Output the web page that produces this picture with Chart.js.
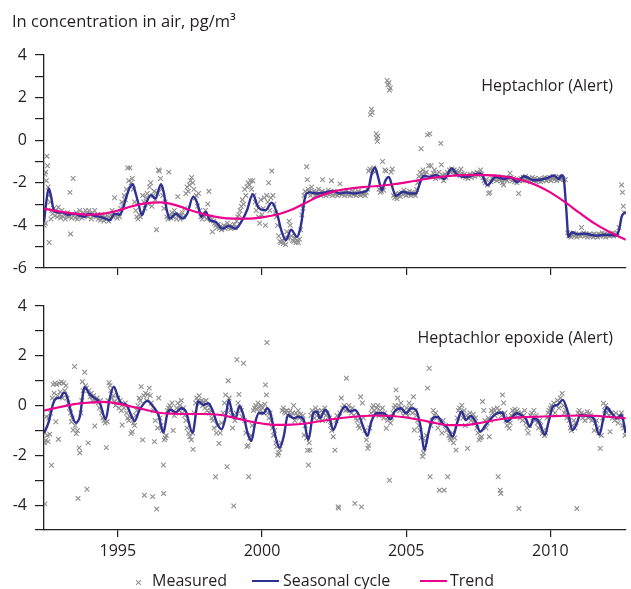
<!DOCTYPE html>
<html>
<head>
<meta charset="utf-8">
<script src="https://cdn.jsdelivr.net/npm/chart.js@4/dist/chart.umd.min.js"></script>
<style>
  body { margin: 0; width: 631px; height: 589px; background: #fff; position: relative; overflow: hidden;
         font-family: "Open Sans", sans-serif; color: #231f20; }
  canvas { position: absolute; left: 0; top: 0; }
  .lbl { position: absolute; font-size: 16px; line-height: 16px; white-space: nowrap; }
  .line { position: absolute; height: 2.4px; }
  .xmark { position: absolute; width: 6px; height: 6px; }
  .xmark::before, .xmark::after { content: ''; position: absolute; left: -1px; top: 2.5px; width: 7px; height: 1px;
         background: #8f8f8f; transform: rotate(45deg); }
  .xmark::after { transform: rotate(-45deg); }
</style>
</head>
<body>
<canvas id="panelTop" width="631" height="589"></canvas>
<canvas id="panelBottom" width="631" height="589"></canvas>

<div class="lbl" style="left:12px;top:13px;font-size:16.5px">In concentration in air, pg/m³</div>
<div class="lbl" style="right:18px;top:77px">Heptachlor (Alert)</div>
<div class="lbl" style="right:18px;top:329px">Heptachlor epoxide (Alert)</div>

<div class="xmark" style="left:136px;top:579px"></div>
<div class="lbl" style="left:152px;top:572px">Measured</div>
<div class="line" style="left:252px;top:580px;width:27px;background:#2e3192"></div>
<div class="lbl" style="left:283px;top:572px">Seasonal cycle</div>
<div class="line" style="left:420px;top:580px;width:27px;background:#ec008c"></div>
<div class="lbl" style="left:450px;top:572px">Trend</div>

<script>
// x range in decimal years, axis ticks
const X_MIN = 1992.44;
const X_MAX = 2012.62;
const yearTicks = [1995, 2000, 2005, 2010];
const topYTicks = [-6, -5, -4, -3, -2, -1, 0, 1, 2, 3, 4];
const bottomYTicks = [-5, -4, -3, -2, -1, 0, 1, 2, 3, 4];

// Heptachlor: [year, ln concentration]
const topMeasured = [
  [1992.45,-4.0],[1992.47,-1.6],[1992.49,-3.9],[1992.5,-1.5],[1992.52,-1.9],[1992.54,-0.75],[1992.56,-1.2],[1992.58,-2.2],
  [1992.6,-2.6],[1992.62,-4.8],[1992.65,-2.9],[1992.68,-3.7],[1992.7,-3.3],[1992.74,-3.45],[1992.78,-3.2],[1992.82,-3.55],
  [1992.86,-3.3],[1992.9,-3.6],[1992.94,-3.15],[1992.98,-3.5],[1993.02,-3.65],[1993.06,-3.3],[1993.1,-3.6],[1993.14,-3.45],
  [1993.18,-3.7],[1993.22,-3.55],[1993.26,-3.4],[1993.3,-3.6],[1993.34,-2.45],[1993.36,-4.4],[1993.4,-3.65],[1993.45,-1.8],
  [1993.48,-3.5],[1993.52,-3.65],[1993.56,-3.4],[1993.6,-3.7],[1993.64,-3.6],[1993.68,-3.3],[1993.72,-3.5],[1993.76,-3.65],
  [1993.8,-3.4],[1993.84,-3.55],[1993.88,-3.3],[1993.92,-3.45],[1993.96,-3.6],[1994.0,-3.3],[1994.04,-3.5],[1994.08,-3.7],
  [1994.12,-3.4],[1994.16,-3.55],[1994.2,-3.3],[1994.24,-3.6],[1994.28,-3.5],[1994.32,-3.7],[1994.36,-3.6],[1994.4,-3.75],
  [1994.44,-3.5],[1994.48,-3.65],[1994.52,-3.8],[1994.56,-3.6],[1994.6,-3.7],[1994.64,-3.55],[1994.68,-3.8],[1994.72,-3.65],
  [1994.76,-3.5],[1994.8,-3.3],[1994.84,-3.6],[1994.89,-2.7],[1994.94,-3.55],[1994.98,-3.65],[1995.02,-3.4],[1995.06,-3.6],
  [1995.1,-3.2],[1995.14,-2.9],[1995.18,-3.0],[1995.22,-2.6],[1995.26,-2.8],[1995.3,-2.3],[1995.34,-1.3],[1995.38,-1.9],
  [1995.42,-1.3],[1995.46,-2.0],[1995.5,-1.8],[1995.54,-2.3],[1995.58,-2.9],[1995.62,-3.3],[1995.66,-3.6],[1995.7,-3.7],
  [1995.74,-3.5],[1995.78,-3.6],[1995.82,-3.4],[1995.86,-2.6],[1995.9,-2.9],[1995.94,-3.2],[1995.98,-2.7],[1996.02,-2.5],
  [1996.06,-3.0],[1996.1,-2.2],[1996.14,-2.0],[1996.18,-3.1],[1996.22,-2.6],[1996.26,-2.4],[1996.3,-2.8],[1996.34,-4.2],
  [1996.38,-2.5],[1996.41,-1.4],[1996.44,-1.45],[1996.48,-1.8],[1996.52,-2.3],[1996.56,-2.6],[1996.6,-3.2],[1996.64,-2.9],
  [1996.7,-3.6],[1996.74,-3.7],[1996.77,-1.5],[1996.8,-3.5],[1996.84,-3.65],[1996.88,-3.4],[1996.92,-3.6],[1996.96,-3.3],
  [1997.0,-3.5],[1997.04,-3.7],[1997.08,-2.65],[1997.12,-3.5],[1997.16,-3.7],[1997.2,-3.55],[1997.24,-3.4],[1997.28,-3.6],
  [1997.32,-3.2],[1997.36,-2.5],[1997.4,-2.2],[1997.44,-2.4],[1997.48,-2.1],[1997.52,-1.9],[1997.56,-1.75],[1997.6,-2.0],
  [1997.64,-2.3],[1997.68,-2.7],[1997.72,-2.6],[1997.76,-3.1],[1997.8,-2.5],[1997.84,-3.3],[1997.88,-3.6],[1997.92,-3.7],
  [1997.96,-3.5],[1998.0,-3.6],[1998.04,-3.3],[1998.08,-3.7],[1998.12,-3.0],[1998.16,-2.4],[1998.2,-3.6],[1998.24,-3.75],
  [1998.28,-4.3],[1998.32,-3.8],[1998.36,-3.9],[1998.4,-4.0],[1998.44,-4.1],[1998.48,-3.95],[1998.52,-4.15],[1998.56,-4.05],
  [1998.6,-4.2],[1998.64,-4.1],[1998.68,-4.0],[1998.72,-4.15],[1998.76,-4.05],[1998.8,-3.9],[1998.84,-4.1],[1998.88,-4.0],
  [1998.92,-4.15],[1998.96,-4.05],[1999.0,-4.1],[1999.04,-3.95],[1999.08,-4.1],[1999.12,-3.8],[1999.16,-3.6],[1999.2,-3.5],
  [1999.24,-3.3],[1999.28,-3.1],[1999.32,-2.8],[1999.36,-3.0],[1999.4,-2.3],[1999.44,-2.6],[1999.48,-2.2],[1999.52,-2.0],
  [1999.56,-2.1],[1999.6,-1.9],[1999.64,-2.3],[1999.68,-1.9],[1999.72,-2.6],[1999.76,-2.9],[1999.8,-3.3],[1999.84,-3.0],
  [1999.88,-3.6],[1999.92,-3.9],[1999.96,-2.8],[2000.0,-3.5],[2000.04,-3.2],[2000.08,-2.7],[2000.12,-4.0],[2000.16,-2.6],
  [2000.2,-2.9],[2000.23,-2.0],[2000.27,-3.3],[2000.31,-2.7],[2000.34,-1.45],[2000.38,-2.6],[2000.42,-3.0],[2000.46,-3.4],
  [2000.5,-3.6],[2000.54,-4.0],[2000.58,-4.5],[2000.62,-4.75],[2000.66,-4.8],[2000.7,-4.7],[2000.74,-4.85],[2000.78,-4.6],
  [2000.82,-4.9],[2000.86,-4.3],[2000.9,-4.6],[2000.94,-3.8],[2000.98,-4.0],[2001.02,-4.5],[2001.06,-4.7],[2001.1,-4.75],
  [2001.14,-4.6],[2001.18,-4.8],[2001.22,-4.7],[2001.26,-4.8],[2001.3,-4.65],[2001.34,-4.2],[2001.38,-3.5],[2001.42,-3.2],
  [2001.46,-2.6],[2001.5,-2.4],[2001.55,-1.25],[2001.57,-1.85],[2001.6,-2.3],[2001.64,-2.4],[2001.68,-2.6],[2001.72,-2.2],
  [2001.76,-2.5],[2001.8,-2.4],[2001.84,-2.6],[2001.88,-2.45],[2001.92,-2.55],[2001.96,-2.3],[2002.0,-2.5],[2002.04,-2.6],
  [2002.08,-2.4],[2002.1,-1.85],[2002.14,-2.55],[2002.18,-2.45],[2002.22,-2.6],[2002.26,-2.5],[2002.3,-2.35],[2002.34,-2.55],
  [2002.38,-2.45],[2002.41,-1.9],[2002.45,-2.6],[2002.5,-2.4],[2002.54,-2.55],[2002.58,-2.45],[2002.62,-2.6],[2002.66,-2.5],
  [2002.7,-2.05],[2002.74,-2.4],[2002.78,-2.55],[2002.82,-2.45],[2002.86,-2.6],[2002.9,-2.5],[2002.94,-2.35],[2002.98,-2.55],
  [2003.02,-2.45],[2003.06,-2.6],[2003.1,-2.5],[2003.14,-2.4],[2003.18,-2.55],[2003.22,-2.45],[2003.26,-2.6],[2003.3,-2.5],
  [2003.34,-2.4],[2003.38,-2.55],[2003.42,-2.6],[2003.46,-2.45],[2003.5,-2.55],[2003.54,-2.5],[2003.58,-2.6],[2003.62,-2.45],
  [2003.66,-2.3],[2003.7,-1.45],[2003.74,-1.35],[2003.76,1.2],[2003.8,1.45],[2003.82,1.3],[2003.84,-1.4],[2003.88,-1.3],
  [2003.92,-1.5],[2003.96,0.3],[2003.98,0.1],[2004.0,-0.05],[2004.02,0.2],[2004.06,-2.3],[2004.1,-2.45],[2004.14,-2.4],
  [2004.18,-1.0],[2004.22,-2.35],[2004.26,-1.4],[2004.3,-1.45],[2004.34,2.8],[2004.37,2.6],[2004.4,2.7],[2004.42,2.35],
  [2004.45,2.45],[2004.48,-1.5],[2004.52,-1.35],[2004.56,-2.6],[2004.6,-2.7],[2004.64,-2.5],[2004.68,-2.75],[2004.72,-2.6],
  [2004.76,-2.5],[2004.8,-2.65],[2004.84,-2.45],[2004.88,-2.55],[2004.92,-2.35],[2004.96,-2.5],[2005.0,-2.6],[2005.04,-2.45],
  [2005.08,-2.55],[2005.12,-2.4],[2005.16,-2.6],[2005.2,-2.45],[2005.24,-2.55],[2005.28,-2.5],[2005.32,-2.6],[2005.36,-2.3],
  [2005.4,-2.0],[2005.44,-1.7],[2005.48,-1.5],[2005.52,-0.4],[2005.55,-1.6],[2005.58,-1.4],[2005.62,-1.75],[2005.66,-1.6],
  [2005.7,-1.5],[2005.74,0.25],[2005.78,-1.2],[2005.82,0.3],[2005.86,-1.2],[2005.9,-1.7],[2005.94,-1.55],[2005.98,-1.4],
  [2006.02,-1.8],[2006.06,-1.6],[2006.1,-1.75],[2006.14,-1.5],[2006.18,-1.7],[2006.2,-0.15],[2006.22,-1.15],[2006.26,-1.65],
  [2006.3,-1.9],[2006.34,-1.6],[2006.38,-1.75],[2006.42,-1.5],[2006.46,-1.6],[2006.5,-1.4],[2006.54,-1.5],[2006.58,-1.35],
  [2006.62,-1.5],[2006.66,-1.4],[2006.7,-1.55],[2006.74,-1.45],[2006.78,-1.6],[2006.82,-1.5],[2006.86,-1.65],[2006.9,-1.35],
  [2006.94,-1.55],[2006.98,-1.7],[2007.02,-1.6],[2007.06,-1.75],[2007.1,-1.65],[2007.14,-1.8],[2007.18,-1.7],[2007.22,-1.6],
  [2007.26,-1.75],[2007.3,-1.65],[2007.34,-1.55],[2007.38,-1.7],[2007.42,-1.6],[2007.46,-1.5],[2007.5,-1.65],[2007.54,-1.55],
  [2007.58,-1.4],[2007.62,-1.6],[2007.66,-1.75],[2007.7,-1.9],[2007.74,-2.0],[2007.78,-1.85],[2007.82,-2.1],[2007.86,-2.5],
  [2007.9,-2.45],[2007.94,-1.95],[2007.98,-1.8],[2008.02,-1.7],[2008.06,-1.85],[2008.1,-1.75],[2008.14,-1.9],[2008.18,-1.7],
  [2008.22,-1.85],[2008.26,-1.8],[2008.3,-1.9],[2008.34,-2.0],[2008.38,-2.1],[2008.42,-1.85],[2008.46,-1.75],[2008.5,-1.9],
  [2008.54,-1.8],[2008.6,-1.55],[2008.64,-1.75],[2008.68,-1.9],[2008.72,-1.8],[2008.76,-1.95],[2008.8,-1.85],[2008.84,-2.0],
  [2008.9,-2.5],[2008.94,-1.9],[2008.98,-1.8],[2009.02,-1.9],[2009.06,-1.75],[2009.1,-1.85],[2009.14,-1.7],[2009.18,-1.8],
  [2009.22,-1.9],[2009.26,-1.8],[2009.3,-1.95],[2009.34,-1.85],[2009.38,-1.75],[2009.42,-1.9],[2009.46,-1.8],[2009.5,-1.95],
  [2009.54,-1.85],[2009.58,-1.9],[2009.62,-1.8],[2009.66,-1.95],[2009.7,-1.85],[2009.74,-1.9],[2009.78,-1.8],[2009.82,-1.75],
  [2009.86,-1.9],[2009.9,-1.8],[2009.94,-1.85],[2009.98,-1.75],[2010.02,-1.9],[2010.06,-1.8],[2010.1,-1.7],[2010.14,-1.85],
  [2010.18,-1.75],[2010.22,-1.9],[2010.26,-1.8],[2010.3,-1.7],[2010.34,-1.85],[2010.38,-1.75],[2010.42,-1.8],[2010.46,-1.85],
  [2010.52,-1.85],[2010.6,-4.35],[2010.64,-4.5],[2010.68,-4.4],[2010.72,-4.55],[2010.76,-4.45],[2010.8,-4.35],[2010.84,-4.5],
  [2010.88,-4.4],[2010.92,-4.55],[2010.96,-4.45],[2011.0,-4.4],[2011.04,-4.5],[2011.08,-4.1],[2011.12,-4.45],[2011.16,-4.35],
  [2011.2,-4.5],[2011.24,-4.4],[2011.28,-4.55],[2011.32,-4.45],[2011.36,-4.4],[2011.4,-4.5],[2011.44,-4.45],[2011.48,-4.55],
  [2011.52,-4.4],[2011.56,-4.5],[2011.6,-4.45],[2011.64,-4.55],[2011.68,-4.4],[2011.72,-4.5],[2011.76,-4.45],[2011.8,-4.35],
  [2011.84,-4.5],[2011.88,-4.4],[2011.92,-4.55],[2011.96,-4.45],[2012.0,-4.4],[2012.04,-4.5],[2012.08,-4.4],[2012.12,-4.45],
  [2012.16,-4.35],[2012.2,-4.5],[2012.24,-4.4],[2012.28,-4.45],[2012.32,-4.35],[2012.38,-4.1],[2012.47,-2.1],[2012.5,-2.45],
  [2012.53,-3.1],[2012.56,-3.4]
];
const topSeasonal = [
  [1992.44,-3.85],[1992.52,-2.9],[1992.6,-2.27],[1992.68,-2.6],[1992.78,-3.3],[1992.9,-3.4],[1993.1,-3.4],[1993.3,-3.5],
  [1993.5,-3.45],[1993.7,-3.55],[1993.85,-3.6],[1994.0,-3.45],[1994.2,-3.55],[1994.4,-3.6],[1994.6,-3.7],[1994.72,-3.76],
  [1994.89,-3.45],[1995.06,-3.5],[1995.18,-3.2],[1995.3,-2.65],[1995.42,-2.2],[1995.52,-2.07],[1995.6,-2.4],[1995.7,-2.9],
  [1995.84,-3.52],[1995.98,-2.97],[1996.15,-2.58],[1996.3,-2.74],[1996.5,-2.07],[1996.6,-2.5],[1996.7,-3.3],[1996.81,-3.68],
  [1997.01,-3.44],[1997.24,-3.68],[1997.41,-3.44],[1997.61,-2.66],[1997.76,-2.97],[1997.9,-3.6],[1998.05,-3.37],[1998.19,-3.76],
  [1998.39,-3.83],[1998.62,-4.15],[1998.85,-4.02],[1999.08,-4.15],[1999.31,-3.76],[1999.48,-3.29],[1999.68,-2.53],[1999.86,-3.13],
  [2000.12,-3.29],[2000.34,-2.93],[2000.52,-3.44],[2000.67,-4.23],[2000.83,-4.7],[2001.01,-4.2],[2001.21,-4.54],[2001.3,-4.3],
  [2001.38,-3.76],[2001.46,-2.9],[2001.55,-2.5],[2001.67,-2.45],[2001.9,-2.5],[2002.2,-2.45],[2002.47,-2.38],[2002.7,-2.5],
  [2002.93,-2.45],[2003.2,-2.5],[2003.45,-2.45],[2003.68,-2.3],[2003.8,-1.6],[2003.92,-1.28],[2004.04,-1.8],[2004.16,-2.35],
  [2004.28,-1.9],[2004.4,-1.72],[2004.52,-2.2],[2004.64,-2.62],[2004.89,-2.42],[2005.12,-2.5],[2005.34,-2.5],[2005.48,-2.0],
  [2005.6,-1.68],[2005.81,-1.72],[2006.03,-1.64],[2006.2,-1.75],[2006.32,-1.82],[2006.58,-1.33],[2006.78,-1.64],[2007.13,-1.72],
  [2007.4,-1.6],[2007.59,-1.56],[2007.82,-2.11],[2008.1,-1.72],[2008.39,-1.82],[2008.62,-1.74],[2008.85,-1.96],[2009.08,-1.69],
  [2009.43,-1.88],[2009.89,-1.78],[2010.12,-1.66],[2010.29,-1.82],[2010.4,-1.64],[2010.47,-1.85],[2010.55,-3.2],[2010.63,-4.54],
  [2010.75,-4.32],[2010.95,-4.42],[2011.15,-4.38],[2011.4,-4.44],[2011.61,-4.48],[2011.9,-4.44],[2012.1,-4.46],[2012.3,-4.48],
  [2012.4,-4.1],[2012.47,-3.6],[2012.61,-3.37]
];
const topTrend = [
  [1992.44,-3.21],[1993.0,-3.35],[1993.5,-3.45],[1994.0,-3.5],[1994.5,-3.45],[1995.0,-3.3],[1995.5,-3.1],[1996.0,-2.95],
  [1996.5,-2.92],[1997.0,-3.05],[1997.5,-3.28],[1998.0,-3.48],[1998.5,-3.62],[1999.0,-3.68],[1999.5,-3.68],[2000.0,-3.62],
  [2000.5,-3.5],[2001.0,-3.28],[2001.5,-2.95],[2002.0,-2.62],[2002.5,-2.4],[2003.0,-2.28],[2003.5,-2.2],[2004.0,-2.15],
  [2004.5,-2.08],[2005.0,-1.98],[2005.5,-1.86],[2006.0,-1.75],[2006.5,-1.68],[2007.0,-1.64],[2007.5,-1.63],[2008.0,-1.65],
  [2008.5,-1.72],[2009.0,-1.87],[2009.5,-2.1],[2010.0,-2.45],[2010.5,-2.9],[2011.0,-3.4],[2011.5,-3.88],[2012.0,-4.27],
  [2012.61,-4.67]
];

// Heptachlor epoxide: [year, ln concentration]
const bottomMeasured = [
  [1992.45,-1.5],[1992.47,-3.95],[1992.5,-1.4],[1992.52,-0.45],[1992.55,-1.2],[1992.58,-1.45],[1992.61,-0.5],[1992.64,-1.15],
  [1992.67,-0.3],[1992.7,-2.4],[1992.73,0.3],[1992.76,0.85],[1992.79,0.5],[1992.82,0.9],[1992.85,-0.65],[1992.88,0.85],
  [1992.91,0.4],[1992.94,-1.35],[1992.97,0.9],[1993.0,0.55],[1993.04,0.95],[1993.08,0.3],[1993.12,0.9],[1993.16,0.6],
  [1993.2,0.8],[1993.24,0.3],[1993.28,0.1],[1993.32,-0.1],[1993.36,-0.3],[1993.39,-0.65],[1993.42,-0.5],[1993.45,-0.98],
  [1993.5,1.57],[1993.52,-0.8],[1993.56,-1.12],[1993.6,-1.0],[1993.62,-3.73],[1993.66,-1.7],[1993.68,-1.9],[1993.72,-0.3],
  [1993.75,0.2],[1993.77,0.96],[1993.8,0.6],[1993.85,1.34],[1993.88,0.8],[1993.91,0.7],[1993.93,-3.36],[1993.97,-1.5],
  [1994.0,0.6],[1994.04,0.35],[1994.08,0.5],[1994.12,0.2],[1994.16,0.4],[1994.2,-0.82],[1994.24,0.15],[1994.28,0.3],
  [1994.32,0.1],[1994.36,-0.1],[1994.4,0.2],[1994.44,-0.3],[1994.48,-0.5],[1994.52,-0.6],[1994.56,-0.7],[1994.6,-1.69],
  [1994.63,-0.65],[1994.66,0.2],[1994.7,0.92],[1994.73,0.8],[1994.76,0.6],[1994.8,0.3],[1994.84,0.4],[1994.88,0.15],
  [1994.92,0.0],[1994.96,0.1],[1995.0,0.3],[1995.04,-0.1],[1995.08,0.2],[1995.12,-0.2],[1995.15,-0.78],[1995.18,0.05],
  [1995.22,-0.1],[1995.26,0.1],[1995.3,-0.3],[1995.34,-0.5],[1995.38,-0.6],[1995.42,-0.45],[1995.46,-1.12],[1995.5,-1.05],
  [1995.54,-0.7],[1995.58,-0.8],[1995.62,-0.4],[1995.66,-0.2],[1995.7,0.0],[1995.74,0.3],[1995.78,0.2],[1995.81,0.76],
  [1995.86,-1.38],[1995.9,0.4],[1995.92,-3.6],[1995.96,0.5],[1996.0,0.2],[1996.04,0.45],[1996.09,0.7],[1996.12,0.4],
  [1996.16,0.1],[1996.21,-3.66],[1996.24,-0.2],[1996.27,-1.45],[1996.3,-0.6],[1996.35,-4.16],[1996.38,-0.9],[1996.42,0.3],
  [1996.46,-0.5],[1996.5,-0.8],[1996.54,-1.0],[1996.58,-2.39],[1996.59,-3.53],[1996.61,-1.38],[1996.65,-1.3],[1996.68,-1.2],
  [1996.72,-0.2],[1996.76,-0.1],[1996.8,0.0],[1996.84,-0.1],[1996.88,0.1],[1996.92,-1.0],[1996.96,-0.4],[1997.0,-0.3],
  [1997.04,-0.1],[1997.08,0.1],[1997.12,-0.2],[1997.16,0.0],[1997.2,0.2],[1997.24,-0.3],[1997.28,-0.1],[1997.32,-0.4],
  [1997.36,-0.6],[1997.4,-0.9],[1997.45,-1.1],[1997.5,-1.25],[1997.55,-1.38],[1997.59,-1.1],[1997.61,-1.76],[1997.65,-0.3],
  [1997.7,0.1],[1997.74,0.3],[1997.78,0.2],[1997.82,0.4],[1997.86,0.1],[1997.9,0.2],[1997.94,0.0],[1997.98,0.15],
  [1998.02,-0.1],[1998.06,0.2],[1998.1,-0.2],[1998.14,0.0],[1998.18,-0.3],[1998.22,-0.2],[1998.26,-0.5],[1998.3,-0.6],
  [1998.34,-0.9],[1998.39,-2.86],[1998.42,-1.1],[1998.46,-0.8],[1998.51,-1.52],[1998.55,-1.1],[1998.6,-0.7],[1998.65,-0.3],
  [1998.7,0.1],[1998.74,0.43],[1998.79,-2.46],[1998.83,1.0],[1998.86,0.3],[1998.9,-0.2],[1998.94,-0.4],[1998.98,-0.9],
  [1999.02,-4.03],[1999.06,-0.6],[1999.1,-0.3],[1999.13,1.84],[1999.17,0.1],[1999.2,0.45],[1999.24,-0.1],[1999.28,-0.2],
  [1999.31,-0.45],[1999.36,1.7],[1999.4,-0.6],[1999.44,-1.1],[1999.48,-1.65],[1999.52,-1.6],[1999.54,-2.86],[1999.58,-1.3],
  [1999.62,-1.2],[1999.66,-0.8],[1999.7,-0.2],[1999.74,-0.1],[1999.78,0.0],[1999.82,-0.15],[1999.86,0.1],[1999.9,-0.05],
  [1999.94,-0.2],[1999.98,0.0],[2000.02,-0.1],[2000.06,-0.3],[2000.1,0.05],[2000.12,0.83],[2000.15,0.43],[2000.17,2.53],
  [2000.2,-0.3],[2000.24,-0.5],[2000.28,-0.3],[2000.32,-0.6],[2000.36,-0.9],[2000.4,-1.2],[2000.44,-1.0],[2000.48,-1.5],
  [2000.51,-1.65],[2000.55,-1.99],[2000.58,-1.9],[2000.62,-1.75],[2000.66,-1.5],[2000.7,-0.2],[2000.74,-0.1],[2000.78,-0.25],
  [2000.82,-0.3],[2000.86,-0.2],[2000.9,-0.4],[2000.94,-0.3],[2000.98,-0.2],[2001.02,-0.4],[2001.06,-0.3],[2001.1,0.0],
  [2001.14,-0.6],[2001.18,-0.3],[2001.22,-0.4],[2001.26,-0.2],[2001.3,-0.5],[2001.34,-0.35],[2001.38,-0.6],[2001.42,-0.4],
  [2001.46,-1.18],[2001.5,-0.8],[2001.55,-1.3],[2001.58,-1.8],[2001.61,-2.39],[2001.64,-1.5],[2001.66,-1.79],[2001.7,-0.4],
  [2001.74,-0.2],[2001.78,-0.3],[2001.82,-0.5],[2001.86,-0.1],[2001.9,-0.3],[2001.94,-0.2],[2001.98,-0.5],[2002.02,-0.4],
  [2002.06,-0.2],[2002.1,-0.6],[2002.14,-0.3],[2002.18,-0.1],[2002.22,-0.4],[2002.26,-0.3],[2002.3,-0.6],[2002.34,-0.5],
  [2002.38,-0.8],[2002.42,-1.0],[2002.47,-1.25],[2002.53,-1.79],[2002.57,-0.6],[2002.6,-0.4],[2002.64,-4.07],[2002.66,-4.12],
  [2002.7,-0.3],[2002.75,0.3],[2002.8,-0.1],[2002.85,0.0],[2002.9,-0.2],[2002.93,1.1],[2002.97,-0.15],[2003.01,0.0],
  [2003.05,-0.2],[2003.1,-0.3],[2003.14,-0.1],[2003.18,-0.4],[2003.22,-3.93],[2003.26,-0.5],[2003.3,-0.6],[2003.34,-0.8],
  [2003.38,-0.9],[2003.42,0.35],[2003.45,-4.07],[2003.48,0.1],[2003.52,-0.5],[2003.57,-1.0],[2003.62,-1.38],[2003.67,-1.72],
  [2003.7,-1.6],[2003.74,-0.9],[2003.78,-0.3],[2003.82,-0.1],[2003.86,0.0],[2003.9,-0.2],[2003.94,-0.3],[2003.98,-0.1],
  [2004.02,0.0],[2004.06,-0.4],[2004.1,-0.2],[2004.14,-0.35],[2004.18,-0.1],[2004.22,-0.5],[2004.26,-0.3],[2004.31,-0.91],
  [2004.35,-0.6],[2004.38,-0.45],[2004.42,-3.0],[2004.46,-0.7],[2004.5,-0.5],[2004.54,-0.3],[2004.58,-0.1],[2004.62,0.0],
  [2004.65,0.63],[2004.7,0.3],[2004.74,0.0],[2004.78,-0.2],[2004.82,0.1],[2004.86,-0.1],[2004.9,-0.4],[2004.94,-0.2],
  [2004.98,-0.3],[2005.02,-0.1],[2005.06,-0.4],[2005.1,0.1],[2005.14,-0.2],[2005.18,0.0],[2005.22,-0.3],[2005.25,0.35],
  [2005.28,-0.98],[2005.32,-0.2],[2005.36,-0.4],[2005.4,-0.6],[2005.44,-0.8],[2005.48,-1.0],[2005.52,-1.3],[2005.57,-2.05],
  [2005.6,-1.9],[2005.63,-1.7],[2005.67,-1.4],[2005.7,-1.2],[2005.74,0.7],[2005.8,1.5],[2005.83,-2.86],[2005.86,-0.8],
  [2005.9,-0.6],[2005.94,-0.2],[2005.98,-0.4],[2006.02,-0.3],[2006.06,-0.5],[2006.1,-0.9],[2006.15,-3.4],[2006.19,-0.7],
  [2006.24,-1.1],[2006.28,-0.6],[2006.32,-3.4],[2006.36,-0.8],[2006.4,-1.0],[2006.44,-2.86],[2006.48,-1.2],[2006.52,-1.3],
  [2006.55,-1.38],[2006.6,-1.1],[2006.64,-1.5],[2006.68,-1.3],[2006.73,-1.79],[2006.77,-0.5],[2006.81,-0.2],[2006.85,-0.1],
  [2006.89,-0.3],[2006.93,0.0],[2006.97,-0.5],[2007.01,-0.2],[2007.05,-0.8],[2007.09,-0.4],[2007.13,-1.72],[2007.17,-0.5],
  [2007.21,-0.3],[2007.25,-0.6],[2007.29,-0.5],[2007.33,-0.35],[2007.37,-0.7],[2007.41,-0.5],[2007.45,-0.9],[2007.49,-1.1],
  [2007.53,-1.38],[2007.57,-1.3],[2007.61,-1.25],[2007.65,0.16],[2007.69,-0.2],[2007.73,-0.6],[2007.77,-0.9],[2007.81,-0.7],
  [2007.85,-0.5],[2007.88,-1.25],[2007.92,-0.6],[2007.96,-0.2],[2008.0,-0.3],[2008.04,-0.15],[2008.08,-0.4],[2008.12,-0.3],
  [2008.16,-0.1],[2008.19,-2.86],[2008.22,-0.2],[2008.26,-3.4],[2008.28,-3.53],[2008.31,-0.4],[2008.34,0.43],[2008.38,0.1],
  [2008.42,-0.3],[2008.46,-0.6],[2008.5,-0.8],[2008.54,-0.5],[2008.57,-0.91],[2008.61,-0.7],[2008.65,-0.4],[2008.69,-0.2],
  [2008.73,-0.3],[2008.77,-0.15],[2008.81,-0.4],[2008.85,-0.2],[2008.89,-0.3],[2008.91,-4.14],[2008.95,-0.5],[2008.99,-0.3],
  [2009.03,-0.6],[2009.07,-0.4],[2009.11,-0.2],[2009.15,-0.7],[2009.19,-0.9],[2009.23,-1.1],[2009.27,-0.8],[2009.31,-0.4],
  [2009.35,-0.3],[2009.39,-0.5],[2009.43,-0.2],[2009.47,-0.6],[2009.51,-0.4],[2009.55,-0.7],[2009.59,-0.9],[2009.63,-0.6],
  [2009.67,-0.8],[2009.72,-1.12],[2009.76,-1.0],[2009.8,-1.2],[2009.84,-1.1],[2009.88,-0.5],[2009.92,-0.3],[2009.96,-0.2],
  [2010.0,-0.1],[2010.04,0.0],[2010.08,-0.2],[2010.12,0.1],[2010.16,-0.3],[2010.2,0.0],[2010.25,0.2],[2010.3,-0.1],
  [2010.35,0.3],[2010.41,0.49],[2010.45,0.0],[2010.49,-0.3],[2010.53,-0.2],[2010.57,-0.5],[2010.61,-0.4],[2010.65,-0.6],
  [2010.69,-0.9],[2010.73,-1.0],[2010.77,-0.8],[2010.81,-0.6],[2010.85,-0.9],[2010.89,-0.7],[2010.92,-4.14],[2010.96,-0.3],
  [2011.0,-0.2],[2011.04,-0.4],[2011.08,-0.3],[2011.12,-0.5],[2011.16,-0.35],[2011.2,-0.6],[2011.24,-0.4],[2011.28,-0.25],
  [2011.32,-0.5],[2011.36,-0.3],[2011.4,-0.4],[2011.44,-0.6],[2011.48,-0.5],[2011.52,-1.0],[2011.56,-0.7],[2011.6,-0.6],
  [2011.64,-0.9],[2011.68,-1.1],[2011.73,-1.72],[2011.77,-1.2],[2011.81,-0.5],[2011.84,0.09],[2011.88,-0.2],[2011.92,0.0],
  [2011.96,-0.3],[2012.0,-0.2],[2012.04,-0.4],[2012.07,-1.05],[2012.11,-0.3],[2012.15,-0.5],[2012.19,-0.4],[2012.23,-0.6],
  [2012.27,-0.3],[2012.31,-0.5],[2012.35,-0.7],[2012.39,-0.4],[2012.43,-0.5],[2012.47,-0.3],[2012.51,-0.8],[2012.55,-0.9],
  [2012.59,-1.2]
];
const bottomSeasonal = [
  [1992.44,-1.11],[1992.59,-0.71],[1992.76,0.09],[1992.87,0.29],[1993.01,0.32],[1993.13,0.52],[1993.22,0.43],[1993.39,-0.31],
  [1993.54,-0.69],[1993.68,-0.45],[1993.85,0.74],[1994.0,0.49],[1994.2,0.29],[1994.37,0.12],[1994.58,-0.55],[1994.71,0.23],
  [1994.86,0.76],[1995.0,0.36],[1995.12,0.09],[1995.29,0.03],[1995.46,-0.38],[1995.58,-0.62],[1995.75,-0.18],[1996.03,0.19],
  [1996.21,-0.02],[1996.41,-0.38],[1996.58,-1.09],[1996.72,-0.31],[1996.84,-0.18],[1997.01,-0.27],[1997.19,-0.11],[1997.36,-0.24],
  [1997.59,-1.09],[1997.79,0.16],[1997.96,0.03],[1998.14,0.09],[1998.28,-0.18],[1998.45,-0.74],[1998.6,-0.95],[1998.74,-0.45],
  [1998.85,0.23],[1998.97,-0.31],[1999.08,-0.51],[1999.22,-0.02],[1999.37,-0.45],[1999.5,-1.1],[1999.63,-1.43],[1999.77,-0.65],
  [1999.89,-0.31],[2000.06,-0.31],[2000.17,-0.11],[2000.29,-0.3],[2000.44,-1.11],[2000.61,-1.69],[2000.75,-1.26],[2000.9,-0.38],
  [2001.09,-0.51],[2001.27,-0.45],[2001.44,-0.55],[2001.61,-1.38],[2001.78,-0.3],[2001.9,-0.24],[2002.01,-0.51],[2002.19,-0.18],
  [2002.32,-0.38],[2002.47,-0.98],[2002.64,-0.51],[2002.88,-0.04],[2003.05,-0.24],[2003.22,-0.18],[2003.36,-0.38],[2003.51,-0.85],
  [2003.66,-1.22],[2003.79,-0.65],[2003.97,-0.31],[2004.2,-0.31],[2004.31,-0.38],[2004.46,-0.55],[2004.6,-0.24],[2004.81,-0.11],
  [2005.0,-0.31],[2005.17,-0.11],[2005.34,-0.18],[2005.5,-0.85],[2005.63,-1.79],[2005.77,-1.11],[2005.92,-0.51],[2006.09,-0.45],
  [2006.26,-0.71],[2006.44,-0.91],[2006.61,-1.25],[2006.78,-0.65],[2006.92,-0.24],[2007.07,-0.58],[2007.24,-0.42],[2007.41,-0.65],
  [2007.57,-1.05],[2007.76,-0.78],[2007.99,-0.45],[2008.16,-0.31],[2008.33,-0.28],[2008.48,-0.65],[2008.64,-0.51],[2008.83,-0.31],
  [2008.99,-0.38],[2009.14,-0.51],[2009.29,-0.85],[2009.43,-0.51],[2009.6,-0.65],[2009.81,-1.18],[2009.94,-0.65],[2010.09,-0.04],
  [2010.25,0.03],[2010.43,0.23],[2010.6,-0.24],[2010.77,-0.98],[2010.92,-0.71],[2011.03,-0.38],[2011.26,-0.42],[2011.5,-0.51],
  [2011.7,-1.18],[2011.84,-0.51],[2011.95,-0.07],[2012.13,-0.31],[2012.3,-0.51],[2012.47,-0.38],[2012.61,-1.11]
];
const bottomTrend = [
  [1992.44,-0.2],[1993.0,-0.06],[1993.5,0.06],[1994.0,0.12],[1994.5,0.15],[1995.0,0.08],[1995.5,-0.05],[1996.0,-0.18],
  [1996.5,-0.3],[1997.0,-0.33],[1997.5,-0.34],[1998.0,-0.34],[1998.5,-0.37],[1999.0,-0.48],[1999.5,-0.62],[2000.0,-0.72],
  [2000.5,-0.78],[2001.0,-0.77],[2001.5,-0.72],[2002.0,-0.63],[2002.5,-0.54],[2003.0,-0.47],[2003.5,-0.42],[2004.0,-0.4],
  [2004.5,-0.42],[2005.0,-0.48],[2005.5,-0.58],[2006.0,-0.7],[2006.5,-0.79],[2007.0,-0.79],[2007.5,-0.71],[2008.0,-0.6],
  [2008.5,-0.51],[2009.0,-0.47],[2009.5,-0.45],[2010.0,-0.43],[2010.5,-0.41],[2011.0,-0.4],[2011.5,-0.41],[2012.0,-0.45],
  [2012.61,-0.51]
];

const INK = '#231f20';
const GREY = '#8f8f8f';
const BLUE = '#2e3192';
const PINK = '#ec008c';

Chart.defaults.font.family = '"Open Sans", sans-serif';
Chart.defaults.font.size = 16;
Chart.defaults.color = INK;

const toXY = arr => arr.map(p => ({ x: p[0], y: p[1] }));

function makePanel(id, measured, seasonal, trend, yTicks, pad, xAxisHeight, showYears) {
  return new Chart(document.getElementById(id), {
    type: 'scatter',
    data: {
      datasets: [
        { label: 'Trend', data: toXY(trend), showLine: true, borderColor: PINK, borderWidth: 2.2,
          pointRadius: 0, cubicInterpolationMode: 'monotone', order: 0 },
        { label: 'Seasonal cycle', data: toXY(seasonal), showLine: true, borderColor: BLUE, borderWidth: 2.4,
          pointRadius: 0, cubicInterpolationMode: 'monotone', order: 1 },
        { label: 'Measured', data: toXY(measured), pointStyle: 'crossRot', pointRadius: 3.3,
          borderColor: GREY, backgroundColor: GREY, borderWidth: 1.1, order: 2 }
      ]
    },
    options: {
      responsive: false,
      animation: false,
      devicePixelRatio: 1,
      events: [],
      layout: { padding: pad },
      plugins: { legend: { display: false }, tooltip: { enabled: false } },
      scales: {
        x: {
          type: 'linear', min: X_MIN, max: X_MAX,
          afterBuildTicks: s => { s.ticks = yearTicks.map(v => ({ value: v })); },
          afterFit: s => { s.height = xAxisHeight; },
          grid: { drawOnChartArea: false, tickLength: 7, color: INK, lineWidth: 1.2 },
          border: { color: INK, width: 1.3 },
          ticks: { autoSkip: false, maxRotation: 0, padding: 5, callback: v => (showYears ? String(v) : '') }
        },
        y: {
          min: yTicks[0], max: yTicks[yTicks.length - 1],
          afterBuildTicks: s => { s.ticks = yTicks.map(v => ({ value: v })); },
          afterFit: s => { s.width = 44; },
          grid: { drawOnChartArea: false, tickLength: 9, color: INK, lineWidth: 1.2 },
          border: { color: INK, width: 1.3 },
          ticks: { autoSkip: false, padding: 8, callback: v => (v % 2 === 0 ? String(v) : '') }
        }
      }
    }
  });
}

makePanel('panelTop', topMeasured, topSeasonal, topTrend, topYTicks,
  { left: 0, right: 2, top: 55, bottom: 311 }, 10, false);
makePanel('panelBottom', bottomMeasured, bottomSeasonal, bottomTrend, bottomYTicks,
  { left: 0, right: 2, top: 306, bottom: 29 }, 30, true);
</script>
</body>
</html>
